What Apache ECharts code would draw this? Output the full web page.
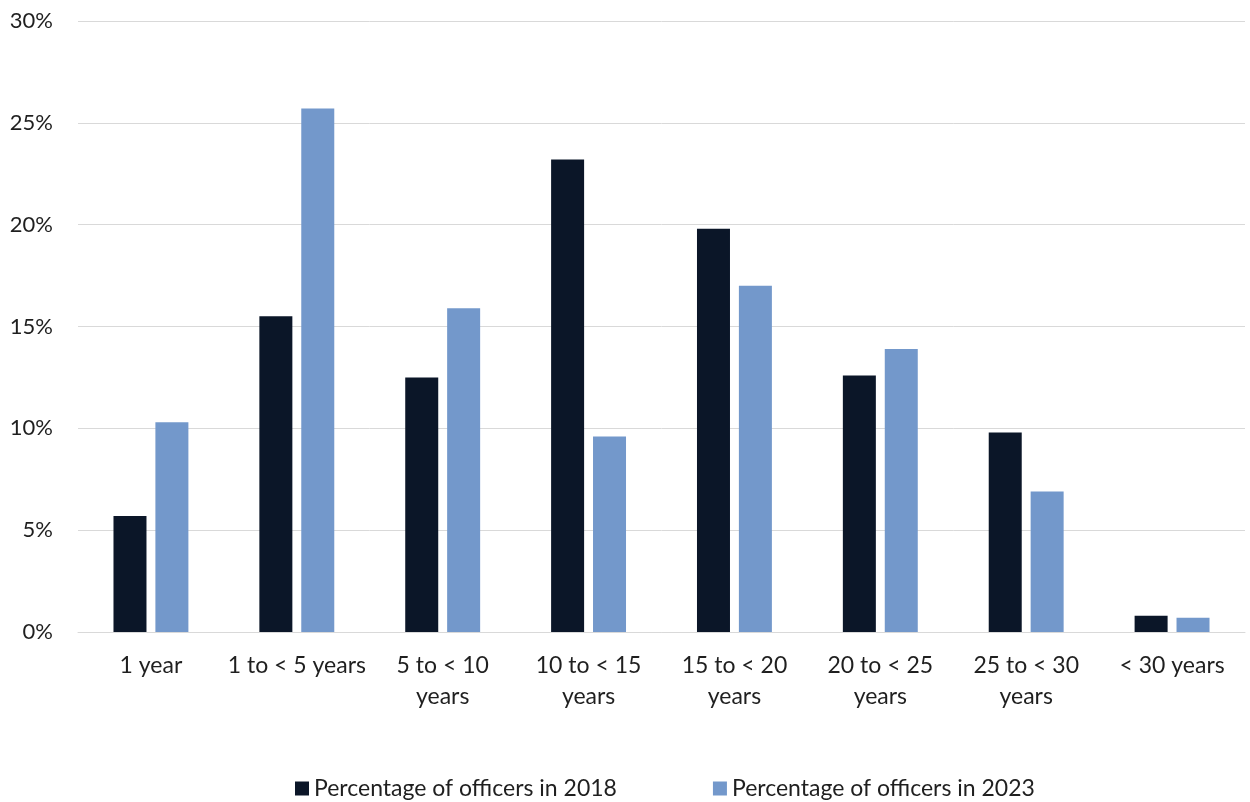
<!DOCTYPE html>
<html>
<head>
<meta charset="utf-8">
<script src="https://cdn.jsdelivr.net/npm/echarts@6/dist/echarts.min.js"></script>
<style>
  html, body { margin: 0; padding: 0; background: #fff; }
  #chart { width: 1250px; height: 802px; }
</style>
</head>
<body>
<div id="chart"></div>
<script>
// Length of service categories
const categories = [
  '1 year',
  '1 to < 5 years',
  '5 to < 10\nyears',
  '10 to < 15\nyears',
  '15 to < 20\nyears',
  '20 to < 25\nyears',
  '25 to < 30\nyears',
  '< 30 years'
];

// Share of officers in each band (%)
const officers2018 = [5.7, 15.5, 12.5, 23.2, 19.8, 12.6, 9.8, 0.8];
const officers2023 = [10.3, 25.7, 15.9, 9.6, 17.0, 13.9, 6.9, 0.7];

const seriesNames = ['Percentage of officers in 2018', 'Percentage of officers in 2023'];

const FONT = 'Lato, "Open Sans", sans-serif';
const TEXT = '#1f1f1f';

const chart = echarts.init(document.getElementById('chart'), null, { renderer: 'canvas' });

chart.setOption({
  animation: false,
  textStyle: { fontFamily: FONT },
  grid: { left: 78, right: 5, top: 21, bottom: 170 },
  legend: {
    top: 772,
    left: 290,
    itemWidth: 14,
    itemHeight: 14,
    itemGap: 96,
    icon: 'rect',
    textStyle: { fontFamily: FONT, fontSize: 23, color: TEXT },
    data: seriesNames
  },
  xAxis: {
    type: 'category',
    data: categories,
    axisLine: { lineStyle: { color: '#d9d9d9', width: 1 } },
    axisTick: { show: false },
    axisLabel: {
      interval: 0,
      margin: 18,
      fontFamily: FONT,
      fontSize: 23,
      color: TEXT,
      lineHeight: 31
    }
  },
  yAxis: {
    type: 'value',
    min: 0,
    max: 30,
    interval: 5,
    axisLine: { show: false },
    axisTick: { show: false },
    splitLine: { lineStyle: { color: '#d9d9d9', width: 1 } },
    axisLabel: {
      margin: 25,
      fontFamily: FONT,
      fontSize: 22,
      color: TEXT,
      formatter: v => v + '%'
    }
  },
  series: [
    {
      name: seriesNames[0],
      type: 'bar',
      data: officers2018,
      barWidth: 33,
      barGap: '27%',
      itemStyle: { color: '#0b1628' }
    },
    {
      name: seriesNames[1],
      type: 'bar',
      data: officers2023,
      barWidth: 33,
      itemStyle: { color: '#7398cb' }
    }
  ]
});
</script>
</body>
</html>
